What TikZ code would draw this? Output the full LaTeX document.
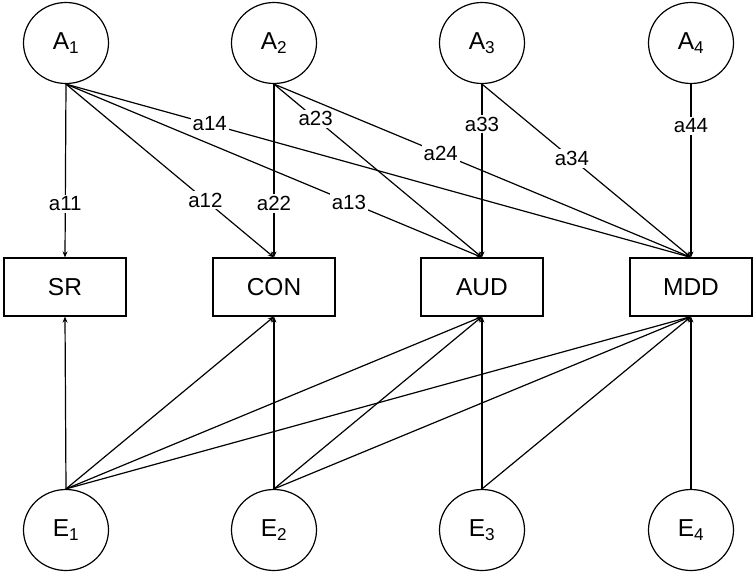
\documentclass[tikz,border=0pt]{standalone}
\usepackage{fontspec}
\setmainfont{Liberation Sans}
\usetikzlibrary{arrows.meta,shapes.geometric}
\tikzset{
  latent/.style={draw, ellipse, minimum width=85pt, minimum height=81pt, inner sep=0pt,
    font=\fontsize{24.5}{28}\selectfont},
  observed/.style={draw, rectangle, minimum width=122pt, minimum height=58pt, inner sep=0pt,
    font=\fontsize{24.5}{28}\selectfont},
  coef/.style={fill=white, inner sep=2pt, font=\fontsize{20.5}{24}\selectfont},
  path/.style={-{Stealth[length=6pt,width=5pt]}}
}
\begin{document}
\begin{tikzpicture}[x=1pt, y=-1pt, line width=1.2pt]
      \useasboundingbox (0,0) rectangle (755,574);
      %\draw [help lines] (0,0) grid (755,574);
      \node[latent] (A1) at (66,43) {A$_{\mathrm{1}}$};
      \node[latent] (A2) at (274,43) {A$_{\mathrm{2}}$};
      \node[latent] (A3) at (482,43) {A$_{\mathrm{3}}$};
      \node[latent] (A4) at (691,43) {A$_{\mathrm{4}}$};

      \node[observed] (SR) at (65,287) {SR};
      \node[observed] (CON) at (274,287) {CON};
      \node[observed] (AUD) at (482,287) {AUD};
      \node[observed] (MDD) at (691,287) {MDD};

      \node[latent] (E1) at (66,530) {E$_{\mathrm{1}}$};
      \node[latent] (E2) at (274,530) {E$_{\mathrm{2}}$};
      \node[latent] (E3) at (482,530) {E$_{\mathrm{3}}$};
      \node[latent] (E4) at (691,530) {E$_{\mathrm{4}}$};

      \draw[path] (A1.south) to node[coef, pos=0.69] {a11} (SR.north);
      \draw[path] (A1.south) to node[coef, pos=0.67] {a12} (CON.north);
      \draw[path] (A1.south) to node[coef, pos=0.68] {a13} (AUD.north);
      \draw[path] (A1.south) to node[coef, pos=0.23] {a14} (MDD.north);
      \draw[path] (A2.south) to node[coef, pos=0.69] {a22} (CON.north);
      \draw[path] (A2.south) to node[coef, pos=0.2] {a23} (AUD.north);
      \draw[path] (A2.south) to node[coef, pos=0.4] {a24} (MDD.north);
      \draw[path] (A3.south) to node[coef, pos=0.23] {a33} (AUD.north);
      \draw[path] (A3.south) to node[coef, pos=0.43] {a34} (MDD.north);
      \draw[path] (A4.south) to node[coef, pos=0.24] {a44} (MDD.north);

      \draw[path] (E1.north) to (SR.south);
      \draw[path] (E1.north) to (CON.south);
      \draw[path] (E1.north) to (AUD.south);
      \draw[path] (E1.north) to (MDD.south);
      \draw[path] (E2.north) to (CON.south);
      \draw[path] (E2.north) to (AUD.south);
      \draw[path] (E2.north) to (MDD.south);
      \draw[path] (E3.north) to (AUD.south);
      \draw[path] (E3.north) to (MDD.south);
      \draw[path] (E4.north) to (MDD.south);
    \end{tikzpicture}
\end{document}
